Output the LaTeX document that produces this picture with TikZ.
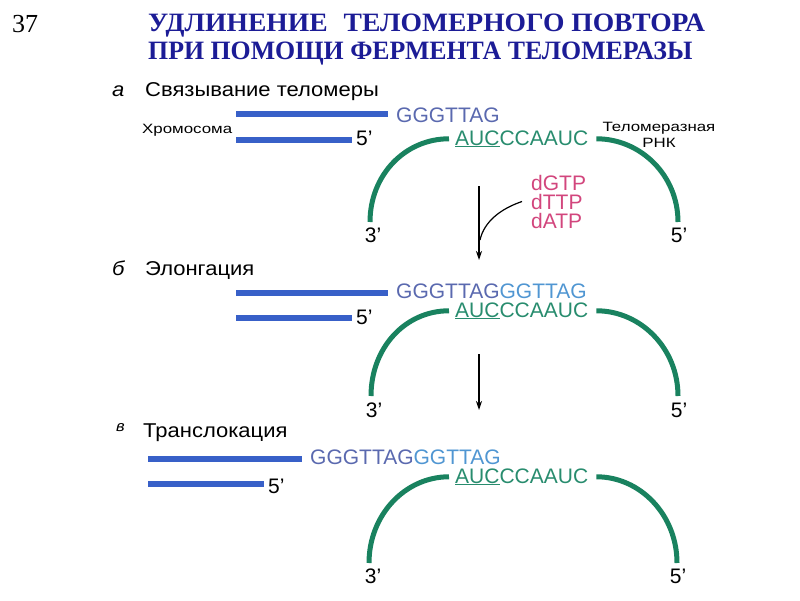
\documentclass[tikz,border=0pt]{standalone}
\usepackage{fontspec}
\usetikzlibrary{arrows.meta}
\setmainfont{Liberation Sans}
\newfontfamily\titlefont{Liberation Serif}
\newfontfamily\titlewide[FakeStretch=1.04]{Liberation Serif}
\newfontfamily\titlenarrow[FakeStretch=0.975]{Liberation Serif}
\newfontfamily\headfont[FakeStretch=1.1]{Liberation Sans}
\newfontfamily\smallfont[FakeStretch=1.25]{Liberation Sans}
\definecolor{titleblue}{RGB}{28,28,150}
\definecolor{dnablue}{RGB}{56,96,200}
\definecolor{seqslate}{RGB}{90,105,175}
\definecolor{seqlight}{RGB}{80,150,210}
\definecolor{rnagreen}{RGB}{25,130,95}
\definecolor{rnatext}{RGB}{40,140,110}
\definecolor{ntpink}{RGB}{210,70,125}
\begin{document}
\begin{tikzpicture}[>={Stealth[length=9pt,width=6pt]}, x=1pt, y=-1pt]
\tikzstyle{every node}=[inner sep=0pt, anchor=base west]
\tikzstyle{ttl}=[text=titleblue]
\tikzstyle{head}=[font=\headfont\fontsize{20}{24}\selectfont]
\tikzstyle{lbl}=[font=\smallfont\fontsize{13.5}{16}\selectfont]
\tikzstyle{seq}=[font=\fontsize{21}{24}\selectfont]
\tikzstyle{bar}=[line width=6.5pt, draw=dnablue]
\tikzstyle{rna}=[line width=5pt, draw=rnagreen]
\tikzstyle{pointer}=[line width=1.2pt]
\useasboundingbox (0,0) rectangle (800,600);
% title
\node[font=\titlefont\fontsize{26}{30}\selectfont](num) at (12,32) {37};
\node[ttl,font=\titlewide\bfseries\fontsize{26.5}{30}\selectfont](t1) at (148,31) {УДЛИНЕНИЕ\hspace{16pt}ТЕЛОМЕРНОГО ПОВТОРА};
\node[ttl,font=\titlenarrow\bfseries\fontsize{26.5}{30}\selectfont](t2) at (148,59) {ПРИ ПОМОЩИ ФЕРМЕНТА ТЕЛОМЕРАЗЫ};
% a
\node[head,font=\headfont\itshape\fontsize{20}{24}\selectfont](ha0) at (112,96) {а};
\node[head](ha) at (145,96) {Связывание теломеры};
\node[lbl](chr) at (142,133) {Хромосома};
\node[lbl,anchor=base](tel) at (659,131) {Теломеразная};
\node[lbl,anchor=base](rnk) at (659,147) {РНК};
\node[seq,text=seqslate](ga) at (396,122) {GGGTTAG};
\node[seq](fa) at (356,145) {5’};
\node[seq,text=rnatext](ra) at (455,145) {\underline{AUC}CCAAUC};
\node[seq,anchor=base](tha) at (373,242) {3’};
\node[seq,anchor=base](fra) at (679,242) {5’};
\coordinate (sa1) at (236,114);
\coordinate (sa2) at (236,140);
\coordinate (la) at (370,222);
\coordinate (ka) at (678,222);
\draw[bar] (sa1) -- ([xshift=-8pt]sa1 -| ga.west);
\draw[bar] (sa2) -- ([xshift=-4pt]sa2 -| fa.west);
\draw[rna] ([xshift=-6pt]ra.west) .. controls +(-44,0) and +(0,-47) .. (la);
\draw[rna] ([xshift=8pt]ra.east) .. controls +(44,0) and +(0,-47) .. (ka);
\node[seq,text=ntpink](n1) at (531,190) {dGTP};
\node[seq,text=ntpink](n2) at (531,209) {dTTP};
\node[seq,text=ntpink](n3) at (531,228) {dATP};
\coordinate (ar1s) at (479,186);
\coordinate (ar1e) at (479,260);
\coordinate (ar1j) at (480,240);
\draw[pointer,->] (ar1s) -- (ar1e);
\draw[pointer] ([xshift=-9pt]n2.west) .. controls (500,209) and (484,222) .. (ar1j);
% b
\node[head,font=\headfont\itshape\fontsize{20}{24}\selectfont](hb0) at (112,275) {б};
\node[head](hb) at (145,275) {Элонгация};
\node[seq](gb) at (396,298) {\textcolor{seqslate}{GGGTTAG}\textcolor{seqlight}{GGTTAG}};
\node[seq](fb) at (356,324) {5’};
\node[seq,text=rnatext](rb) at (455,317) {\underline{AUC}CCAAUC};
\node[seq,anchor=base](thb) at (374,417) {3’};
\node[seq,anchor=base](frb) at (679,417) {5’};
\coordinate (sb1) at (236,293);
\coordinate (sb2) at (236,318);
\coordinate (lb) at (371,396);
\coordinate (kb) at (678,396);
\draw[bar] (sb1) -- ([xshift=-8pt]sb1 -| gb.west);
\draw[bar] (sb2) -- ([xshift=-4pt]sb2 -| fb.west);
\draw[rna] ([xshift=-6pt]rb.west) .. controls +(-44,0) and +(0,-48) .. (lb);
\draw[rna] ([xshift=8pt]rb.east) .. controls +(44,0) and +(0,-48) .. (kb);
\coordinate (ar2s) at (479,354);
\coordinate (ar2e) at (479,410);
\draw[pointer,->] (ar2s) -- (ar2e);
% c
\node[head,font=\headfont\itshape\fontsize{15}{18}\selectfont](hc0) at (116,431) {в};
\node[head](hc) at (143,437) {Транслокация};
\node[seq](gc) at (310,464) {\textcolor{seqslate}{GGGTTAG}\textcolor{seqlight}{GGTTAG}};
\node[seq](fc) at (268,493) {5’};
\node[seq,text=rnatext](rc) at (455,483) {\underline{AUC}CCAAUC};
\node[seq,anchor=base](thc) at (373,583) {3’};
\node[seq,anchor=base](frc) at (678,583) {5’};
\coordinate (sc1) at (148,459);
\coordinate (sc2) at (148,484);
\coordinate (lc) at (369,563);
\coordinate (kc) at (677,563);
\draw[bar] (sc1) -- ([xshift=-8pt]sc1 -| gc.west);
\draw[bar] (sc2) -- ([xshift=-4pt]sc2 -| fc.west);
\draw[rna] ([xshift=-6pt]rc.west) .. controls +(-44,0) and +(0,-48) .. (lc);
\draw[rna] ([xshift=8pt]rc.east) .. controls +(44,0) and +(0,-48) .. (kc);
\end{tikzpicture}
\end{document}
